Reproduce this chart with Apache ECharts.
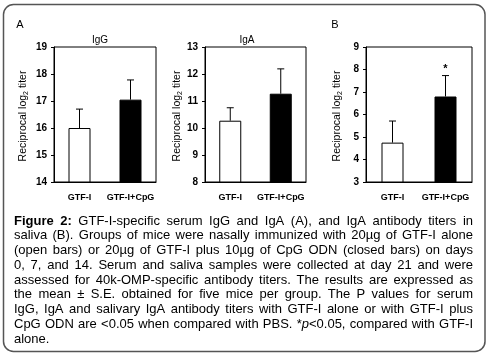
<!DOCTYPE html>
<html>
<head>
<meta charset="utf-8">
<script src="https://cdn.jsdelivr.net/npm/echarts@6/dist/echarts.min.js"></script>
<style>
html,body{margin:0;padding:0;background:#fff;}
#c{width:490px;height:356px;}
</style>
</head>
<body>
<div id="c"></div>
<script>
// ---- data ----
const categories = ['GTF-I', 'GTF-I+CpG'];
const serumIgG = [16.0, 17.05];
const serumIgGErr = [0.70, 0.73];
const serumIgA = [10.27, 11.27];
const serumIgAErr = [0.48, 0.92];
const salivaIgA = [4.75, 6.80];
const salivaIgAErr = [0.96, 0.93];
const salivaSig = ['', '*'];
const panelTitles = ['IgG', 'IgA', ''];
const yMins = [14, 8, 3];
const yMaxs = [19, 13, 9];
const captionLines = [
  [[['Figure', 'b']], [['2:', 'b']], 'GTF-I-specific', 'serum', 'IgG', 'and', 'IgA', '(A),', 'and', 'IgA', 'antibody', 'titers', 'in'],
  'saliva (B). Groups of mice were nasally immunized with 20\u00b5g of GTF-I alone'.split(' '),
  '(open bars) or 20\u00b5g of GTF-I plus 10\u00b5g of CpG ODN (closed bars) on days'.split(' '),
  '0, 7, and 14. Serum and saliva samples were collected at day 21 and were'.split(' '),
  'assessed for 40k-OMP-specific antibody titers. The results are expressed as'.split(' '),
  'the mean \u00b1 S.E. obtained for five mice per group. The P values for serum'.split(' '),
  'IgG, IgA and salivary IgA antibody titers with GTF-I alone or with GTF-I plus'.split(' '),
  'CpG ODN are <0.05 when compared with PBS.'.split(' ').concat([[['*', 'n'], ['p', 'i'], ['<0.05,', 'n']], 'compared', 'with', 'GTF-I']),
  ['alone.']
];

// ---- layout ----
const grids = [
  {left: 54, top: 47, width: 102, height: 135},
  {left: 205, top: 47, width: 101, height: 135},
  {left: 366, top: 47, width: 106, height: 135}
];
const means = [serumIgG, serumIgA, salivaIgA];
const errs = [serumIgGErr, serumIgAErr, salivaIgAErr];
const sigs = [['', ''], ['', ''], salivaSig];
const FF = '"Liberation Sans", Arial, sans-serif';

const xAxes = [], yAxes = [], series = [];
grids.forEach((g, i) => {
  xAxes.push({
    type: 'category', gridIndex: i, data: categories,
    axisTick: {show: false},
    axisLine: {lineStyle: {color: '#000', width: 1}},
    axisLabel: {interval: 0, hideOverlap: false, color: '#000', fontSize: 9, fontWeight: 'bold', fontFamily: FF, margin: 11}
  });
  yAxes.push({
    type: 'value', gridIndex: i, min: yMins[i], max: yMaxs[i], interval: 1,
    splitLine: {show: false},
    axisLine: {show: true, lineStyle: {color: '#000', width: 1}},
    axisTick: {show: true, length: 3, lineStyle: {color: '#000'}},
    axisLabel: {color: '#000', fontSize: 10, fontWeight: 'bold', fontFamily: FF, margin: 7}
  });
  series.push({
    type: 'bar', xAxisIndex: i, yAxisIndex: i, barWidth: 22,
    data: means[i].map((v, k) => ({
      value: v,
      itemStyle: {color: k === 0 ? '#fff' : '#000', borderColor: '#000', borderWidth: 1}
    })),
    silent: true, animation: false
  });
  const m = means[i], e = errs[i], s = sigs[i];
  series.push({
    type: 'custom', xAxisIndex: i, yAxisIndex: i, animation: false, silent: true,
    data: m.map((v, k) => [k, v, e[k]]),
    renderItem: function (params, api) {
      const k = api.value(0), v = api.value(1), er = api.value(2);
      const base = api.coord([k, v]);
      const top = api.coord([k, v + er]);
      const children = [
        {type: 'line', shape: {x1: base[0], y1: base[1], x2: top[0], y2: top[1]}, style: {stroke: '#000', lineWidth: 1}},
        {type: 'line', shape: {x1: top[0] - 3.5, y1: top[1], x2: top[0] + 3.5, y2: top[1]}, style: {stroke: '#000', lineWidth: 1}}
      ];
      const lab = s[params.dataIndex];
      if (lab) {
        children.push({type: 'text', x: top[0], y: top[1] - 7,
          style: {text: lab, fill: '#000', fontSize: 11, fontWeight: 'bold', fontFamily: FF, align: 'center', verticalAlign: 'middle'}});
      }
      return {type: 'group', children: children};
    }
  });
});

// ---- graphic: frame, panel letters, titles, y names, caption ----
const graphic = [];
graphic.push({type: 'rect', shape: {x: 3.5, y: 4.5, width: 481.5, height: 347, r: 10},
  style: {fill: 'none', stroke: '#555', lineWidth: 1.5}, silent: true});
graphic.push({type: 'text', x: 20, y: 25, style: {text: 'A', fontSize: 11, fontFamily: FF, fill: '#000', align: 'center', verticalAlign: 'middle'}});
graphic.push({type: 'text', x: 335, y: 25, style: {text: 'B', fontSize: 11, fontFamily: FF, fill: '#000', align: 'center', verticalAlign: 'middle'}});
const titleX = [100, 247, 0];
panelTitles.forEach((t, i) => {
  if (!t) return;
  graphic.push({type: 'text', x: titleX[i], y: 40.5, style: {text: t, fontSize: 10, fontFamily: FF, fill: '#000', align: 'center', verticalAlign: 'middle'}});
});
const nameX = [23, 177, 337];
nameX.forEach(x => {
  graphic.push({type: 'text', x: x, y: 116, rotation: Math.PI / 2,
    style: {
      text: '{a|Reciprocal log}{s|2}{a| titer}',
      align: 'center', verticalAlign: 'middle', fill: '#000',
      rich: {
        a: {fontSize: 10.5, fontFamily: FF, fill: '#000', lineHeight: 13, verticalAlign: 'middle'},
        s: {fontSize: 7, fontFamily: FF, fill: '#000', lineHeight: 13, verticalAlign: 'bottom'}
      }
    }});
});

// caption with justified lines
const cv = document.createElement('canvas').getContext('2d');
const CAP_SIZE = 13;
function fontStr(st) {
  const w = st === 'b' ? 'bold ' : '';
  const it = st === 'i' ? 'italic ' : '';
  return it + w + CAP_SIZE + 'px ' + FF;
}
function segs(word) { return typeof word === 'string' ? [[word, 'n']] : word; }
function wordWidth(word) {
  return segs(word).reduce((a, sg) => { cv.font = fontStr(sg[1]); return a + cv.measureText(sg[0]).width; }, 0);
}
const CX0 = 14, CX1 = 473, CY0 = 221, CLH = 14.75;
captionLines.forEach((words, li) => {
  const widths = words.map(wordWidth);
  const total = widths.reduce((a, b) => a + b, 0);
  const last = li === captionLines.length - 1;
  cv.font = fontStr('n');
  const gap = last ? cv.measureText(' ').width : (CX1 - CX0 - total) / (words.length - 1);
  let x = CX0;
  const y = CY0 + li * CLH;
  words.forEach((w, wi) => {
    let sx = x;
    segs(w).forEach(sg => {
      cv.font = fontStr(sg[1]);
      graphic.push({type: 'text', x: sx, y: y, silent: true,
        style: {text: sg[0], fill: '#000', fontSize: CAP_SIZE, fontFamily: FF,
          fontWeight: sg[1] === 'b' ? 'bold' : 'normal', fontStyle: sg[1] === 'i' ? 'italic' : 'normal',
          align: 'left', verticalAlign: 'middle'}});
      sx += cv.measureText(sg[0]).width;
    });
    x += widths[wi] + gap;
  });
});

const chart = echarts.init(document.getElementById('c'), null, {renderer: 'canvas'});
chart.setOption({
  animation: false,
  backgroundColor: '#fff',
  grid: grids.map(g => Object.assign({show: true, borderColor: '#000', borderWidth: 1, backgroundColor: 'transparent', containLabel: false}, g)),
  xAxis: xAxes,
  yAxis: yAxes,
  series: series,
  graphic: graphic
});
</script>
</body>
</html>
